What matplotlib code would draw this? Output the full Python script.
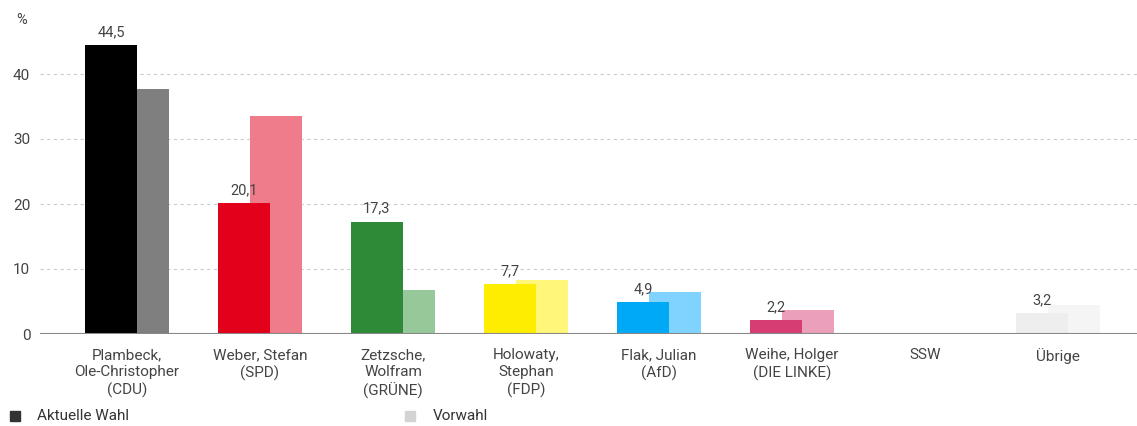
import matplotlib
matplotlib.use("Agg")
import matplotlib.pyplot as plt
from matplotlib.patches import Rectangle

plt.rcParams['font.family'] = ['Roboto', 'DejaVu Sans']

categories = ["Plambeck,\nOle-Christopher\n(CDU)", "Weber, Stefan\n(SPD)", "Zetzsche,\nWolfram\n(GRÜNE)",
              "Holowaty,\nStephan\n(FDP)", "Flak, Julian\n(AfD)", "Weihe, Holger\n(DIE LINKE)", "SSW", "Übrige"]
current = [44.5, 20.1, 17.3, 7.7, 4.9, 2.2, 0.0, 3.2]
previous = [37.7, 33.5, 6.8, 8.3, 6.5, 3.7, 0.0, 4.5]
value_labels = ["44,5", "20,1", "17,3", "7,7", "4,9", "2,2", "", "3,2"]
colors_cur = ["#000000", "#e2001a", "#2e8a37", "#ffed00", "#00a9f5", "#d63e73", "#e6e6e6", "#eeeeee"]
colors_prev = ["#7f7f7f", "#ef7c8a", "#96c89a", "#fff67a", "#80d3ff", "#eb9fba", "#f2f2f2", "#f5f5f5"]
yticks = [0, 10, 20, 30, 40]

W, H = 1137, 426
fig = plt.figure(figsize=(W / 100, H / 100), dpi=100)
ax = fig.add_axes([40 / W, 92 / H, (W - 40) / W, 325 / H])

x = list(range(len(categories)))
bw = 52 / 133
off = 16 / 133
ax.bar([i + off for i in x], previous, width=bw, color=colors_prev, zorder=2)
ax.bar([i - off for i in x], current, width=bw, color=colors_cur, zorder=3)
for i, (v, lab) in enumerate(zip(current, value_labels)):
    if lab:
        ax.text(i - off, v + 0.9, lab, ha='center', va='bottom', fontsize=10.5, color='#444444', zorder=4)

ax.set_xlim(-0.654, 7.594)
ax.set_ylim(0, 50)
for t in yticks[1:]:
    ax.axhline(t, color='#cccccc', lw=0.8, ls=(0, (3, 3)), zorder=1)
ax.axhline(0, color='#888888', lw=1.5, zorder=5)
for s in ax.spines.values():
    s.set_visible(False)
ax.set_yticks(yticks)
ax.set_yticklabels([str(t) for t in yticks])
ax.tick_params(axis='y', length=0, pad=7, labelsize=11, labelcolor='#444444')
ax.set_xticks(x)
ax.set_xticklabels(categories, fontsize=11, color='#444444', linespacing=1.3)
ax.tick_params(axis='x', length=0, pad=10)

fig.text(22 / W, 1 - 20 / H, "%", ha='center', va='center', fontsize=10.5, color='#444444')

# legend
fig.patches.append(Rectangle((10 / W, 1 - 421 / H), 10 / W, 10 / H, transform=fig.transFigure, color='#333333'))
fig.text(37 / W, 1 - 416 / H, "Aktuelle Wahl", ha='left', va='center', fontsize=11, color='#333333')
fig.patches.append(Rectangle((405 / W, 1 - 421 / H), 10 / W, 10 / H, transform=fig.transFigure, color='#d3d3d3'))
fig.text(433 / W, 1 - 416 / H, "Vorwahl", ha='left', va='center', fontsize=11, color='#333333')

fig.savefig("out.png", dpi=100)
